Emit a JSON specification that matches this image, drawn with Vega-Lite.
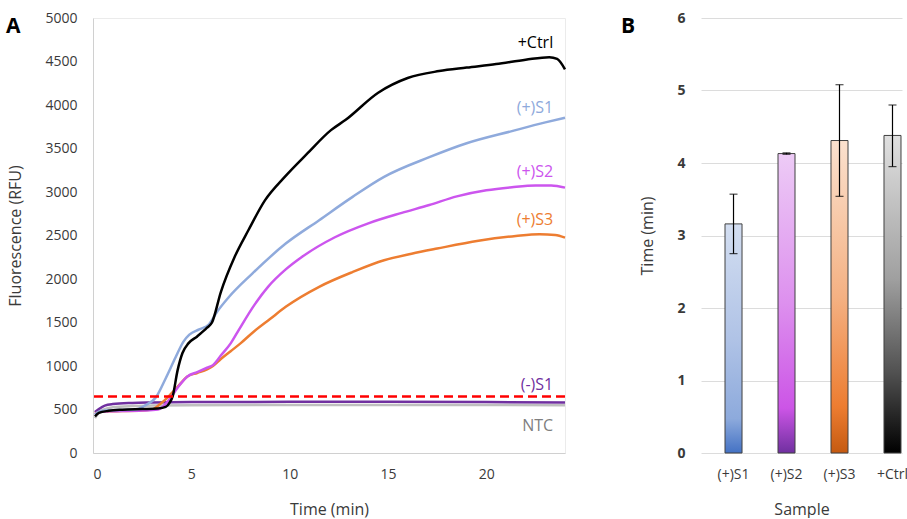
{
  "$schema": "https://vega.github.io/schema/vega-lite/v6.json",
  "padding": {"left": 5, "top": 10, "right": 0, "bottom": 0},
  "spacing": 50,
  "config": {
    "font": "Open Sans",
    "axis": {
      "labelFont": "Open Sans",
      "labelFontSize": 14,
      "labelColor": "#3a3a3a",
      "titleFont": "Open Sans",
      "titleFontSize": 16,
      "titleFontWeight": "normal",
      "titleColor": "#3a3a3a",
      "ticks": false,
      "tickSize": 0
    },
    "axisY": {"labelPadding": 16, "titlePadding": 21},
    "axisX": {"labelPadding": 14, "titlePadding": 20},
    "title": {"font": "Open Sans"}
  },
  "datasets": {
    "curves": [
      {"s": "NTC", "t": 0.1, "v": 400}, {"s": "NTC", "t": 0.3, "v": 465}, {"s": "NTC", "t": 0.6, "v": 505}, {"s": "NTC", "t": 1, "v": 525}, {"s": "NTC", "t": 2, "v": 540}, {"s": "NTC", "t": 3, "v": 545}, {"s": "NTC", "t": 5, "v": 550}, {"s": "NTC", "t": 10, "v": 552}, {"s": "NTC", "t": 15, "v": 553}, {"s": "NTC", "t": 20, "v": 552}, {"s": "NTC", "t": 24, "v": 550},
      {"s": "(-)S1", "t": 0.1, "v": 470}, {"s": "(-)S1", "t": 0.3, "v": 505}, {"s": "(-)S1", "t": 0.6, "v": 545}, {"s": "(-)S1", "t": 1, "v": 562}, {"s": "(-)S1", "t": 2, "v": 575}, {"s": "(-)S1", "t": 3, "v": 580}, {"s": "(-)S1", "t": 5, "v": 585}, {"s": "(-)S1", "t": 10, "v": 588}, {"s": "(-)S1", "t": 15, "v": 588}, {"s": "(-)S1", "t": 20, "v": 585}, {"s": "(-)S1", "t": 24, "v": 580},
      {"s": "(+)S3", "t": 0.1, "v": 455}, {"s": "(+)S3", "t": 0.3, "v": 470}, {"s": "(+)S3", "t": 0.8, "v": 480}, {"s": "(+)S3", "t": 1.5, "v": 482}, {"s": "(+)S3", "t": 2.5, "v": 488}, {"s": "(+)S3", "t": 3.0, "v": 500}, {"s": "(+)S3", "t": 3.4, "v": 560}, {"s": "(+)S3", "t": 3.8, "v": 640}, {"s": "(+)S3", "t": 4.3, "v": 760}, {"s": "(+)S3", "t": 4.8, "v": 880}, {"s": "(+)S3", "t": 5.3, "v": 920}, {"s": "(+)S3", "t": 5.8, "v": 960}, {"s": "(+)S3", "t": 6.1, "v": 1000}, {"s": "(+)S3", "t": 6.5, "v": 1080}, {"s": "(+)S3", "t": 7, "v": 1170}, {"s": "(+)S3", "t": 7.5, "v": 1260}, {"s": "(+)S3", "t": 8.2, "v": 1400}, {"s": "(+)S3", "t": 9, "v": 1540}, {"s": "(+)S3", "t": 9.8, "v": 1680}, {"s": "(+)S3", "t": 11.5, "v": 1910}, {"s": "(+)S3", "t": 13.2, "v": 2080}, {"s": "(+)S3", "t": 14.8, "v": 2215}, {"s": "(+)S3", "t": 16.2, "v": 2290}, {"s": "(+)S3", "t": 17.5, "v": 2350}, {"s": "(+)S3", "t": 19.6, "v": 2440}, {"s": "(+)S3", "t": 21.5, "v": 2495}, {"s": "(+)S3", "t": 22.7, "v": 2515}, {"s": "(+)S3", "t": 23.5, "v": 2505}, {"s": "(+)S3", "t": 24, "v": 2475},
      {"s": "(+)S2", "t": 0.1, "v": 445}, {"s": "(+)S2", "t": 0.3, "v": 470}, {"s": "(+)S2", "t": 0.8, "v": 480}, {"s": "(+)S2", "t": 1.5, "v": 482}, {"s": "(+)S2", "t": 2.5, "v": 488}, {"s": "(+)S2", "t": 3.3, "v": 500}, {"s": "(+)S2", "t": 3.6, "v": 540}, {"s": "(+)S2", "t": 3.9, "v": 620}, {"s": "(+)S2", "t": 4.3, "v": 750}, {"s": "(+)S2", "t": 4.8, "v": 880}, {"s": "(+)S2", "t": 5.3, "v": 930}, {"s": "(+)S2", "t": 5.8, "v": 980}, {"s": "(+)S2", "t": 6.1, "v": 1010}, {"s": "(+)S2", "t": 6.5, "v": 1120}, {"s": "(+)S2", "t": 7, "v": 1260}, {"s": "(+)S2", "t": 7.4, "v": 1410}, {"s": "(+)S2", "t": 8.2, "v": 1700}, {"s": "(+)S2", "t": 8.9, "v": 1910}, {"s": "(+)S2", "t": 9.8, "v": 2110}, {"s": "(+)S2", "t": 10.6, "v": 2250}, {"s": "(+)S2", "t": 12.3, "v": 2480}, {"s": "(+)S2", "t": 14, "v": 2640}, {"s": "(+)S2", "t": 15.7, "v": 2760}, {"s": "(+)S2", "t": 17.1, "v": 2850}, {"s": "(+)S2", "t": 18.5, "v": 2950}, {"s": "(+)S2", "t": 20, "v": 3020}, {"s": "(+)S2", "t": 21.3, "v": 3055}, {"s": "(+)S2", "t": 22.5, "v": 3075}, {"s": "(+)S2", "t": 23.3, "v": 3075}, {"s": "(+)S2", "t": 24, "v": 3050},
      {"s": "(+)S1", "t": 0.1, "v": 440}, {"s": "(+)S1", "t": 0.3, "v": 475}, {"s": "(+)S1", "t": 0.8, "v": 490}, {"s": "(+)S1", "t": 1.5, "v": 495}, {"s": "(+)S1", "t": 2.2, "v": 500}, {"s": "(+)S1", "t": 2.6, "v": 540}, {"s": "(+)S1", "t": 3.2, "v": 640}, {"s": "(+)S1", "t": 3.7, "v": 860}, {"s": "(+)S1", "t": 4.2, "v": 1100}, {"s": "(+)S1", "t": 4.6, "v": 1280}, {"s": "(+)S1", "t": 4.9, "v": 1360}, {"s": "(+)S1", "t": 5.4, "v": 1420}, {"s": "(+)S1", "t": 5.9, "v": 1480}, {"s": "(+)S1", "t": 6.3, "v": 1620}, {"s": "(+)S1", "t": 6.9, "v": 1790}, {"s": "(+)S1", "t": 8.1, "v": 2062}, {"s": "(+)S1", "t": 9.8, "v": 2407}, {"s": "(+)S1", "t": 11.5, "v": 2676}, {"s": "(+)S1", "t": 13.2, "v": 2944}, {"s": "(+)S1", "t": 14.8, "v": 3174}, {"s": "(+)S1", "t": 17.1, "v": 3400}, {"s": "(+)S1", "t": 19, "v": 3560}, {"s": "(+)S1", "t": 21.3, "v": 3700}, {"s": "(+)S1", "t": 23, "v": 3800}, {"s": "(+)S1", "t": 24, "v": 3854},
      {"s": "+Ctrl", "t": 0.1, "v": 420}, {"s": "+Ctrl", "t": 0.3, "v": 460}, {"s": "+Ctrl", "t": 0.8, "v": 485}, {"s": "+Ctrl", "t": 1.5, "v": 498}, {"s": "+Ctrl", "t": 2.5, "v": 505}, {"s": "+Ctrl", "t": 3.3, "v": 512}, {"s": "+Ctrl", "t": 3.7, "v": 530}, {"s": "+Ctrl", "t": 3.9, "v": 580}, {"s": "+Ctrl", "t": 4.05, "v": 650}, {"s": "+Ctrl", "t": 4.3, "v": 950}, {"s": "+Ctrl", "t": 4.55, "v": 1150}, {"s": "+Ctrl", "t": 4.85, "v": 1260}, {"s": "+Ctrl", "t": 5.3, "v": 1340}, {"s": "+Ctrl", "t": 5.8, "v": 1440}, {"s": "+Ctrl", "t": 6.05, "v": 1500}, {"s": "+Ctrl", "t": 6.5, "v": 1850}, {"s": "+Ctrl", "t": 7.2, "v": 2253}, {"s": "+Ctrl", "t": 7.9, "v": 2560}, {"s": "+Ctrl", "t": 8.75, "v": 2906}, {"s": "+Ctrl", "t": 9.75, "v": 3174}, {"s": "+Ctrl", "t": 10.9, "v": 3443}, {"s": "+Ctrl", "t": 12.1, "v": 3711}, {"s": "+Ctrl", "t": 12.85, "v": 3830}, {"s": "+Ctrl", "t": 14.5, "v": 4141}, {"s": "+Ctrl", "t": 16, "v": 4310}, {"s": "+Ctrl", "t": 17.6, "v": 4390}, {"s": "+Ctrl", "t": 19, "v": 4430}, {"s": "+Ctrl", "t": 20.5, "v": 4470}, {"s": "+Ctrl", "t": 22, "v": 4520}, {"s": "+Ctrl", "t": 23.2, "v": 4550}, {"s": "+Ctrl", "t": 23.6, "v": 4530}, {"s": "+Ctrl", "t": 24, "v": 4410}
    ],
    "threshold": [{"v": 650}],
    "labels": [
      {"label": "+Ctrl", "t": 23.4, "v": 4709},
      {"label": "(+)S1", "t": 23.4, "v": 3961},
      {"label": "(+)S2", "t": 23.4, "v": 3231},
      {"label": "(+)S3", "t": 23.4, "v": 2675},
      {"label": "(-)S1", "t": 23.4, "v": 777},
      {"label": "NTC", "t": 23.4, "v": 316}
    ],
    "bars": [
      {"sample": "(+)S1", "time": 3.16, "lo": 2.75, "hi": 3.57},
      {"sample": "(+)S2", "time": 4.13, "lo": 4.12, "hi": 4.14},
      {"sample": "(+)S3", "time": 4.31, "lo": 3.54, "hi": 5.08},
      {"sample": "+Ctrl", "time": 4.38, "lo": 3.95, "hi": 4.8}
    ]
  },
  "hconcat": [
    {
      "width": 472,
      "height": 435,
      "title": {"text": "A", "anchor": "start", "frame": "group", "fontSize": 21, "fontWeight": "bold", "color": "#000000", "baseline": "alphabetic", "offset": -28.5, "dx": -87, "dy": 14.5},
      "view": {"stroke": "#EBEBEB"},
      "layer": [
        {
          "data": {"name": "curves"},
          "mark": {"type": "line", "interpolate": "monotone", "strokeWidth": 2.5},
          "encoding": {
            "x": {"field": "t", "type": "quantitative", "scale": {"domain": [0, 24], "nice": false}, "axis": {"values": [0, 5, 10, 15, 20], "format": "d", "title": "Time (min)", "grid": false, "domainColor": "#D0D0D0"}},
            "y": {"field": "v", "type": "quantitative", "scale": {"domain": [0, 5000]}, "axis": {"values": [0, 500, 1000, 1500, 2000, 2500, 3000, 3500, 4000, 4500, 5000], "format": "d", "title": "Fluorescence (RFU)", "grid": false, "domainColor": "#D0D0D0"}},
            "color": {"field": "s", "type": "nominal", "scale": {"domain": ["NTC", "(-)S1", "(+)S3", "(+)S2", "(+)S1", "+Ctrl"], "range": ["#BFBFBF", "#7030A0", "#ED7D31", "#CC55EE", "#8FAADC", "#000000"]}, "legend": null}
          }
        },
        {
          "data": {"name": "threshold"},
          "mark": {"type": "rule", "color": "#FF0000", "strokeDash": [9, 5], "strokeWidth": 2.5},
          "encoding": {"y": {"field": "v", "type": "quantitative"}}
        },
        {
          "data": {"name": "labels"},
          "mark": {"type": "text", "align": "right", "baseline": "middle", "fontSize": 16, "font": "Open Sans"},
          "encoding": {
            "x": {"field": "t", "type": "quantitative"},
            "y": {"field": "v", "type": "quantitative"},
            "text": {"field": "label"},
            "color": {"field": "label", "type": "nominal", "scale": {"domain": ["+Ctrl", "(+)S1", "(+)S2", "(+)S3", "(-)S1", "NTC"], "range": ["#000000", "#8EA9DB", "#CC55EE", "#ED7D31", "#7030A0", "#7F7F7F"]}, "legend": null}
          }
        }
      ],
      "resolve": {"scale": {"color": "independent"}}
    },
    {
      "width": 201,
      "height": 435,
      "title": {"text": "B", "anchor": "start", "frame": "group", "fontSize": 21, "fontWeight": "bold", "color": "#000000", "baseline": "alphabetic", "offset": -28.5, "dx": -80, "dy": 14.5},
      "view": {"stroke": null},
      "data": {"name": "bars"},
      "encoding": {
        "x": {"field": "sample", "type": "nominal", "sort": null, "scale": {"domain": ["(+)S1", "(+)S2", "(+)S3", "+Ctrl"], "paddingInner": 0.679, "paddingOuter": 0.236, "align": 0.96}, "axis": {"title": "Sample", "labelAngle": 0, "domain": false}}
      },
      "layer": [
        {
          "transform": [{"filter": {"field": "sample", "equal": "(+)S1"}}],
          "mark": {"type": "bar", "stroke": "#404040", "strokeWidth": 1, "fill": {"gradient": "linear", "x1": 0, "y1": 0, "x2": 0, "y2": 1, "stops": [{"offset": 0, "color": "#D3DEF1"}, {"offset": 0.5, "color": "#B0C3E6"}, {"offset": 0.85, "color": "#8DAADC"}, {"offset": 1, "color": "#4472C4"}]}},
          "encoding": {"y": {"field": "time", "type": "quantitative", "title": "Time (min)", "scale": {"domain": [0, 6]}, "axis": {"values": [0, 1, 2, 3, 4, 5, 6], "format": "d", "title": "Time (min)", "grid": true, "gridColor": "#DCDCDC", "domain": false, "labelFontWeight": "bold"}}}
        },
        {
          "transform": [{"filter": {"field": "sample", "equal": "(+)S2"}}],
          "mark": {"type": "bar", "stroke": "#404040", "strokeWidth": 1, "fill": {"gradient": "linear", "x1": 0, "y1": 0, "x2": 0, "y2": 1, "stops": [{"offset": 0, "color": "#EDCBF6"}, {"offset": 0.5, "color": "#DD90EE"}, {"offset": 0.85, "color": "#CC55E6"}, {"offset": 1, "color": "#7030A0"}]}},
          "encoding": {"y": {"field": "time", "type": "quantitative", "title": "Time (min)"}}
        },
        {
          "transform": [{"filter": {"field": "sample", "equal": "(+)S3"}}],
          "mark": {"type": "bar", "stroke": "#404040", "strokeWidth": 1, "fill": {"gradient": "linear", "x1": 0, "y1": 0, "x2": 0, "y2": 1, "stops": [{"offset": 0, "color": "#FBE1CE"}, {"offset": 0.5, "color": "#F4B183"}, {"offset": 0.85, "color": "#ED7D31"}, {"offset": 1, "color": "#C55A11"}]}},
          "encoding": {"y": {"field": "time", "type": "quantitative", "title": "Time (min)"}}
        },
        {
          "transform": [{"filter": {"field": "sample", "equal": "+Ctrl"}}],
          "mark": {"type": "bar", "stroke": "#404040", "strokeWidth": 1, "fill": {"gradient": "linear", "x1": 0, "y1": 0, "x2": 0, "y2": 1, "stops": [{"offset": 0, "color": "#E0E0E0"}, {"offset": 0.45, "color": "#A0A0A0"}, {"offset": 0.75, "color": "#505050"}, {"offset": 1, "color": "#000000"}]}},
          "encoding": {"y": {"field": "time", "type": "quantitative", "title": "Time (min)"}}
        },
        {
          "mark": {"type": "errorbar", "ticks": {"size": 8, "color": "#000000", "thickness": 1.2}, "rule": {"color": "#000000", "strokeWidth": 1.2}},
          "encoding": {"y": {"field": "lo", "type": "quantitative", "title": "Time (min)"}, "y2": {"field": "hi"}}
        }
      ]
    }
  ],
  "resolve": {"scale": {"x": "independent", "y": "independent", "color": "independent"}}
}
